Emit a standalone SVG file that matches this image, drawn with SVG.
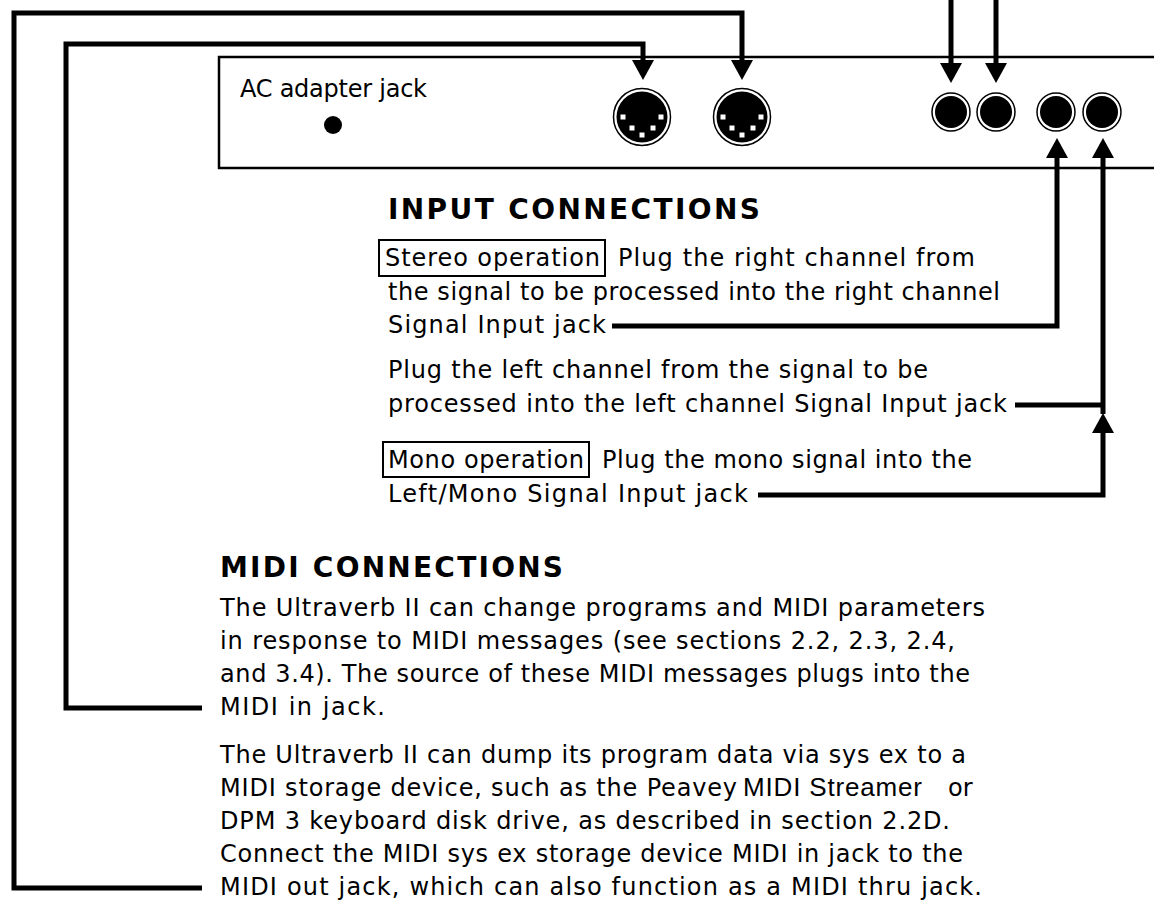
<svg xmlns="http://www.w3.org/2000/svg" width="1154" height="911" viewBox="0 0 1154 911">
<style>
.t{font-family:"DejaVu Sans","Liberation Sans",sans-serif;font-size:24px;fill:#000}
.h{font-family:"DejaVu Sans","Liberation Sans",sans-serif;font-size:28px;font-weight:bold;fill:#000}
.a{font-family:"Liberation Sans",Arial,sans-serif;font-size:26px;fill:#000}
.c{fill:none;stroke:#000;stroke-width:5;stroke-linejoin:miter}
.panel{fill:#fff;stroke:#000;stroke-width:2.5}
.box{fill:none;stroke:#000;stroke-width:2}
.ring{fill:#fff;stroke:#000;stroke-width:1.5}
.core{fill:#000}
.pin{fill:#fff}
</style>
<defs>
<marker id="arr" markerUnits="userSpaceOnUse" viewBox="0 0 20 22" markerWidth="20" markerHeight="22" refX="14" refY="11" orient="auto">
<path d="M0,0 L20,11 L0,22 z" fill="#000"/>
</marker>
<g id="din">
<circle class="ring" r="28.5"/>
<circle class="core" r="25.5"/>
<rect class="pin" x="-21.5" y="-2.5" width="5" height="5"/>
<rect class="pin" x="16.5" y="-2.5" width="5" height="5"/>
<rect class="pin" x="-12.5" y="8.5" width="5" height="5"/>
<rect class="pin" x="8.5" y="8.5" width="5" height="5"/>
<rect class="pin" x="-2.5" y="15.5" width="5" height="5"/>
</g>
<g id="phone">
<circle class="ring" r="19"/>
<circle class="core" r="16"/>
</g>
</defs>
<rect width="1154" height="911" fill="#fff"/>

<g id="panel">
<path class="panel" d="M1160,57 H219 V168 H1160"/>
<text class="t" x="240" y="97" font-size="22" textLength="187">AC adapter jack</text>
<circle id="ac-jack" cx="333" cy="125" r="9" fill="#000"/>
</g>

<g id="midi-in-jack"><use href="#din" x="642" y="117"/></g>
<g id="midi-out-jack"><use href="#din" x="742" y="117"/></g>
<g id="output-left-jack"><use href="#phone" x="951" y="112"/></g>
<g id="output-right-jack"><use href="#phone" x="996" y="112"/></g>
<g id="input-right-jack"><use href="#phone" x="1056" y="112"/></g>
<g id="input-left-jack"><use href="#phone" x="1102" y="112"/></g>

<g id="input-connections">
<text class="h" x="388" y="219" textLength="372">INPUT CONNECTIONS</text>
<rect class="box" x="379" y="240" width="226" height="36"/>
<text class="t" x="385" y="266" textLength="215">Stereo operation</text>
<text class="t" x="618" y="266" textLength="357">Plug the right channel from</text>
<text class="t" x="388" y="300" textLength="612">the signal to be processed into the right channel</text>
<text class="t" x="388" y="333" textLength="218">Signal Input jack</text>
<text class="t" x="388" y="378" textLength="540">Plug the left channel from the signal to be</text>
<text class="t" x="388" y="412" textLength="619">processed into the left channel Signal Input jack</text>
<rect class="box" x="383" y="442" width="206" height="35"/>
<text class="t" x="388" y="468" textLength="196">Mono operation</text>
<text class="t" x="602" y="468" textLength="370">Plug the mono signal into the</text>
<text class="t" x="388" y="502" textLength="360">Left/Mono Signal Input jack</text>
</g>

<g id="midi-connections">
<text class="h" x="220" y="577" textLength="343">MIDI CONNECTIONS</text>
<text class="t" x="220" y="616" textLength="765">The Ultraverb II can change programs and MIDI parameters</text>
<text class="t" x="220" y="649" textLength="735">in response to MIDI messages (see sections 2.2, 2.3, 2.4,</text>
<text class="t" x="220" y="682" textLength="750">and 3.4). The source of these MIDI messages plugs into the</text>
<text class="t" x="220" y="715" textLength="165">MIDI in jack.</text>
<text class="t" x="220" y="763" textLength="746">The Ultraverb II can dump its program data via sys ex to a</text>
<text class="t" x="220" y="796" textLength="517">MIDI storage device, such as the Peavey</text>
<text class="a" x="743" y="796" textLength="179">MIDI Streamer</text>
<text class="t" x="948" y="796">or</text>
<text class="t" x="220" y="829" textLength="730">DPM 3 keyboard disk drive, as described in section 2.2D.</text>
<text class="t" x="220" y="862" textLength="743">Connect the MIDI sys ex storage device MIDI in jack to the</text>
<text class="t" x="220" y="895" textLength="762">MIDI out jack, which can also function as a MIDI thru jack.</text>
</g>

<g id="connectors">
<path class="c" d="M202,888 H14 V13 H742 V74" marker-end="url(#arr)"/>
<path class="c" d="M202,708 H66 V44 H643 V74" marker-end="url(#arr)"/>
<path class="c" d="M951,-5 V77" marker-end="url(#arr)"/>
<path class="c" d="M996,-5 V77" marker-end="url(#arr)"/>
<path class="c" d="M612,326 H1057 V144" marker-end="url(#arr)"/>
<path class="c" d="M1015,405 H1103 M1103,414 V144" marker-end="url(#arr)"/>
<path class="c" d="M758,495 H1103 V419" marker-end="url(#arr)"/>
</g>
</svg>
